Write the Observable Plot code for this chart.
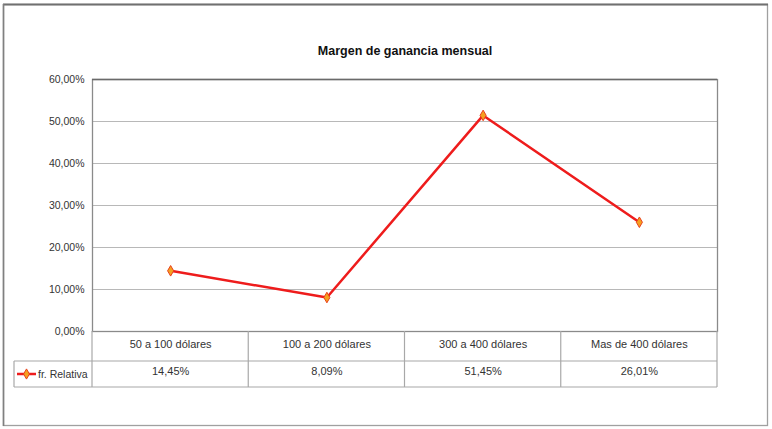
<!DOCTYPE html>
<html>
<head>
<meta charset="utf-8">
<script src="https://cdn.jsdelivr.net/npm/d3@7"></script>
<script src="https://cdn.jsdelivr.net/npm/@observablehq/plot@0.6"></script>
<style>
  html, body { margin: 0; padding: 0; background: #fff; }
  #chart { width: 772px; height: 429px; }
</style>
</head>
<body>
<div id="chart"></div>
<script>
const title = "Margen de ganancia mensual";
const categories = ["50 a 100 dólares", "100 a 200 dólares", "300 a 400 dólares", "Mas de 400 dólares"];
const values = [0.1445, 0.0809, 0.5145, 0.2601];
const valueLabels = ["14,45%", "8,09%", "51,45%", "26,01%"];
const yTicks = [0, 0.1, 0.2, 0.3, 0.4, 0.5, 0.6];
const seriesName = "fr. Relativa";

const FONT = "'Liberation Sans Narrow', 'Liberation Sans', Arial, sans-serif";
const RED = "#ee1c1c";
const data = categories.map((c, i) => ({cat: c, i: i + 0.5, v: values[i], label: valueLabels[i]}));
const bounds = d3.range(categories.length + 1);
const fmt = d => (d * 100).toFixed(2).replace(".", ",") + "%";

const plot = Plot.plot({
  width: 772,
  height: 429,
  marginLeft: 92,
  marginRight: 55,
  marginTop: 79,
  marginBottom: 98,
  style: {fontFamily: FONT, fontSize: "10.5px", color: "#333", background: "#fff"},
  x: {domain: [0, categories.length], axis: null},
  y: {domain: [0, 0.6], ticks: yTicks, tickFormat: fmt, tickSize: 0, tickPadding: 8, label: null},
  marks: [
    Plot.ruleY(yTicks.slice(1, -1), {stroke: "#b8b8b8", strokeWidth: 1.2}),
    Plot.frame({stroke: "#8a8a8a", strokeWidth: 1.3}),
    Plot.ruleY([0.6], {stroke: "#6a6a6a", strokeWidth: 1.6}),
    Plot.line(data, {x: "i", y: "v", stroke: RED, strokeWidth: 2.5}),
    Plot.dot(data, {x: "i", y: "v", symbol: "diamond", r: 3.2, fill: "#f5a020", stroke: "#e8401a", strokeWidth: 1}),
    Plot.text(data, {x: "i", text: "cat", frameAnchor: "bottom", dy: 16, fontSize: 11, fill: "#333"}),
    Plot.text(data, {x: "i", text: "label", frameAnchor: "bottom", dy: 43, fontSize: 11, fill: "#333"}),
    Plot.text([title], {text: d => d, frameAnchor: "top", dy: -33, fontSize: 12.5, fontWeight: "bold", fill: "#111"})
  ]
});

const svg = d3.select(plot);
const xs = plot.scale("x");
const ys = plot.scale("y");
const y0 = ys.apply(0);
const r1 = y0 + 30, r2 = y0 + 56;
const xR = xs.apply(categories.length);
const legendLeft = 14;
const g = svg.append("g").attr("stroke", "#a8a8a8").attr("stroke-width", 1.2);
bounds.forEach(b => {
  g.append("line").attr("x1", xs.apply(b)).attr("x2", xs.apply(b)).attr("y1", y0).attr("y2", r2);
});
g.append("line").attr("x1", legendLeft).attr("x2", xR).attr("y1", r1).attr("y2", r1);
g.append("line").attr("x1", legendLeft).attr("x2", xR).attr("y1", r2).attr("y2", r2);
g.append("line").attr("x1", legendLeft).attr("x2", legendLeft).attr("y1", r1).attr("y2", r2);

// legend key
const ly = (r1 + r2) / 2;
svg.append("line").attr("x1", 17).attr("x2", 36).attr("y1", ly).attr("y2", ly).attr("stroke", RED).attr("stroke-width", 2.5);
svg.append("path").attr("d", d3.symbol(d3.symbolDiamond, 30)()).attr("transform", `translate(26.5,${ly})`)
  .attr("fill", "#f5a020").attr("stroke", "#e8401a").attr("stroke-width", 1);
svg.append("text").attr("x", 38).attr("y", ly).attr("dy", "0.35em").attr("text-anchor", "start")
  .attr("font-size", 10.5).attr("fill", "#333").text(seriesName);

// outer chart border
svg.append("rect").attr("x", 3.5).attr("y", 4.5).attr("width", 764).attr("height", 421)
  .attr("fill", "none").attr("stroke", "#a0a0a0").attr("stroke-width", 1.3);
svg.append("line").attr("x1", 3).attr("x2", 768).attr("y1", 4.5).attr("y2", 4.5).attr("stroke", "#707070").attr("stroke-width", 2);
svg.append("line").attr("x1", 3.5).attr("x2", 3.5).attr("y1", 4).attr("y2", 426).attr("stroke", "#808080").attr("stroke-width", 1.6);

document.getElementById("chart").appendChild(plot);
</script>
</body>
</html>
